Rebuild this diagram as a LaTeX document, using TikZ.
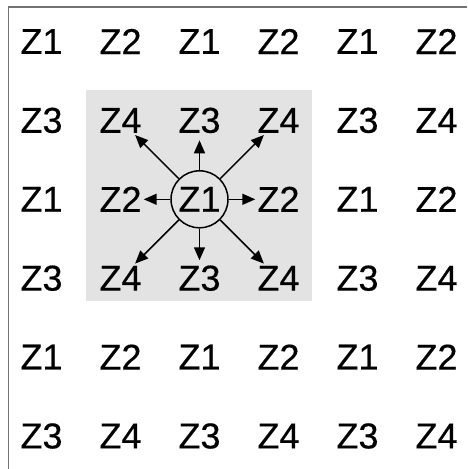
\documentclass[tikz,border=0pt]{standalone}
\usepackage{fontspec}
\setmainfont{Liberation Sans}[FakeBold=0.4]
\usetikzlibrary{arrows.meta}
\begin{document}
\begin{tikzpicture}[x=1pt,y=-1pt,
  lbl/.style={inner sep=2pt, font=\fontsize{36}{36}\selectfont},
  arr/.style={line width=1.5pt, -{Triangle[length=13pt,width=11pt]}},
  frame/.style={draw=black!55, line width=1.3pt},
  zone/.style={fill=black!11, draw=none}]
\useasboundingbox (0,0) rectangle (467,469);
\fill[white] (0,0) rectangle (467,469);
\draw[frame] (467,7) -- (8.5,7) -- (8.5,469);
\fill[zone] (86,90) rectangle (312,301);
\foreach \r/\a/\b in {0/1/2,1/3/4,2/1/2,3/3/4,4/1/2,5/3/4}{
  \foreach \c in {0,...,5}{
    \pgfmathtruncatemacro{\odd}{mod(\c,2)}
    \ifnum\odd=0 \def\t{Z\a}\else\def\t{Z\b}\fi
    \ifnum\r=2 \ifnum\c=2 \def\t{}\fi\fi
    \node[lbl] (n-\r-\c) at ({41.5+79*\c},{41.5+78.9*\r}) {\t};
  }
}
\node[lbl, draw, circle, line width=1.5pt, minimum size=57pt, inner sep=0pt] (c) at (n-2-2) {Z1};
\draw[arr, shorten >=5pt] (c) -- (n-1-2);
\draw[arr, shorten >=3pt] (c) -- (n-3-2);
\draw[arr] (c) -- (n-2-1);
\draw[arr] (c) -- (n-2-3);
\draw[arr] (c) -- (n-1-1);
\draw[arr] (c) -- (n-1-3);
\draw[arr] (c) -- (n-3-1);
\draw[arr] (c) -- (n-3-3);
\end{tikzpicture}
\end{document}
